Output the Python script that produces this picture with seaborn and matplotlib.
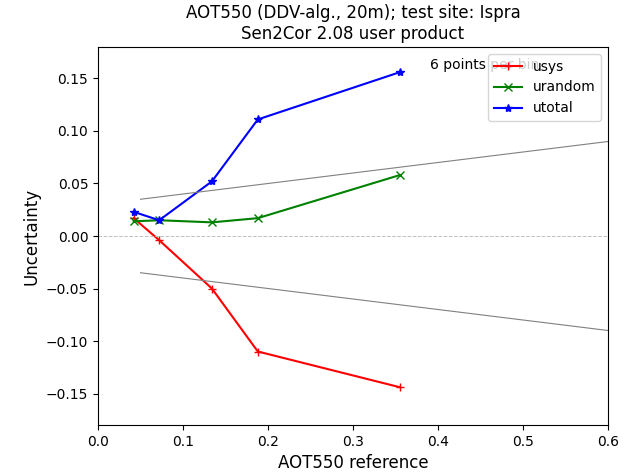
import matplotlib
matplotlib.use("Agg")
import matplotlib.pyplot as plt
import seaborn as sns
import numpy as np
import pandas as pd

x_ref = [0.042, 0.072, 0.134, 0.188, 0.355]
usys = [0.017, -0.004, -0.050, -0.110, -0.144]
urandom = [0.014, 0.015, 0.013, 0.017, 0.058]
utotal = [0.023, 0.015, 0.052, 0.111, 0.156]
env_x = [0.05, 0.6]
env_a = 0.03
env_b = 0.1

fig = plt.figure(figsize=(6.43, 4.73), dpi=100)
ax = fig.add_axes([98/643, 1-425/473, (608-98)/643, (425-47)/473])

series = [("usys", usys, "red", "+"), ("urandom", urandom, "green", "x"), ("utotal", utotal, "blue", "*")]
for name, vals, col, mk in series:
    df = pd.DataFrame({"x": x_ref, "y": vals})
    sns.lineplot(data=df, x="x", y="y", ax=ax, color=col, marker=mk, markersize=6,
                 markeredgecolor=col, markeredgewidth=1.0, linewidth=1.5, label=name,
                 estimator=None, sort=False)

ex = np.array(env_x)
ax.plot(ex, env_a + env_b * ex, color="gray", linewidth=0.8)
ax.plot(ex, -(env_a + env_b * ex), color="gray", linewidth=0.8)
ax.axhline(0, color="silver", linestyle="--", linewidth=0.7)

ax.text(0.39, 0.163, "6 points per bin", fontsize=10, va="center", zorder=1)
ax.set_xlim(0, 0.6)
ax.set_ylim(-0.18, 0.18)
ax.set_yticks([-0.15, -0.10, -0.05, 0.0, 0.05, 0.10, 0.15])
ax.set_xlabel("AOT550 reference", fontsize=12)
ax.set_ylabel("Uncertainty", fontsize=12)
ax.set_title("AOT550 (DDV-alg., 20m); test site: Ispra\nSen2Cor 2.08 user product", fontsize=12)
leg = ax.legend(loc="upper right", fontsize=10)
leg.set_zorder(5)
fig.savefig("out.png", dpi=100)
